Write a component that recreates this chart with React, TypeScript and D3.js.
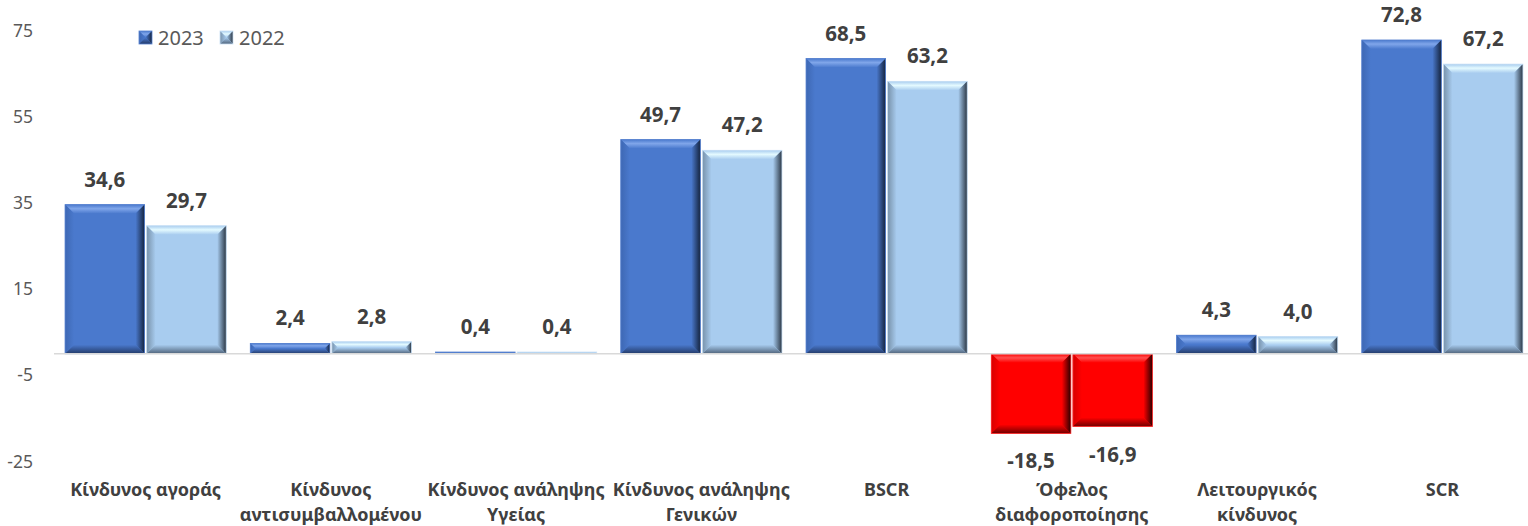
import React from "react";
import * as d3 from "d3";

const categories: string[][] = [
  ["Κίνδυνος αγοράς"],
  ["Κίνδυνος", "αντισυμβαλλομένου"],
  ["Κίνδυνος ανάληψης", "Υγείας"],
  ["Κίνδυνος ανάληψης", "Γενικών"],
  ["BSCR"],
  ["Όφελος", "διαφοροποίησης"],
  ["Λειτουργικός", "κίνδυνος"],
  ["SCR"],
];
const seriesNames = ["2023", "2022"];
const values2023 = [34.6, 2.4, 0.4, 49.7, 68.5, -18.5, 4.3, 72.8];
const values2022 = [29.7, 2.8, 0.4, 47.2, 63.2, -16.9, 4.0, 67.2];
const yTicks = [75, 55, 35, 15, -5, -25];

const W = 1528;
const H = 526;
const FONT = "'Noto Sans', sans-serif";

type Pal = { face: string; top: string; left: string; right: string; bottom: string; edge: string };
const palettes: Record<string, Pal> = {
  "2023": { face: "#4a79cd", top: "#80a6ea", left: "#3e68b4", right: "#15243f", bottom: "#233a68", edge: "#5580cf" },
  "2022": { face: "#a8ccef", top: "#e4faff", left: "#7892aa", right: "#2a3644", bottom: "#4f637a", edge: "#c9e0f5" },
  neg: { face: "#ff0000", top: "#ff5050", left: "#d80000", right: "#2a0000", bottom: "#700000", edge: "#ff3030" },
};

function fmt(v: number) {
  return v.toFixed(1).replace(".", ",");
}

function BevelBar({ x, y, w, h, id, b0 = 9 }: { x: number; y: number; w: number; h: number; id: string; b0?: number }) {
  const b = Math.min(b0, h / 2, w / 2);
  const p = (pts: number[][]) => pts.map((q) => q.join(",")).join(" ");
  return (
    <g>
      <rect x={x} y={y} width={w} height={h} fill={`url(#${id}-face)`} />
      {h > 3 && (
        <>
          <polygon points={p([[x, y], [x + w, y], [x + w - b, y + b], [x + b, y + b]])} fill={`url(#${id}-top)`} />
          <polygon points={p([[x, y], [x + b, y + b], [x + b, y + h - b], [x, y + h]])} fill={`url(#${id}-left)`} />
          <polygon points={p([[x + w, y], [x + w, y + h], [x + w - b, y + h - b], [x + w - b, y + b]])} fill={`url(#${id}-right)`} />
          <polygon points={p([[x, y + h], [x + w, y + h], [x + w - b, y + h - b], [x + b, y + h - b]])} fill={`url(#${id}-bottom)`} />
        </>
      )}
      <rect x={x} y={y} width={w} height={h} fill="none" stroke={`url(#${id}-edge)`} strokeWidth={0.8} />
    </g>
  );
}

function Grads({ id, pal }: { id: string; pal: Pal }) {
  return (
    <>
      <linearGradient id={`${id}-face`} x1="0" y1="0" x2="1" y2="0">
        <stop offset="0" stopColor={pal.face} />
        <stop offset="1" stopColor={pal.face} />
      </linearGradient>
      <linearGradient id={`${id}-edge`} x1="0" y1="0" x2="1" y2="0">
        <stop offset="0" stopColor={pal.edge} />
        <stop offset="1" stopColor={pal.edge} />
      </linearGradient>
      <linearGradient id={`${id}-top`} x1="0" y1="0" x2="0" y2="1">
        <stop offset="0" stopColor={pal.face} />
        <stop offset="0.45" stopColor={pal.top} />
        <stop offset="1" stopColor={pal.face} />
      </linearGradient>
      <linearGradient id={`${id}-left`} x1="0" y1="0" x2="1" y2="0">
        <stop offset="0" stopColor={pal.left} />
        <stop offset="1" stopColor={pal.face} />
      </linearGradient>
      <linearGradient id={`${id}-right`} x1="0" y1="0" x2="1" y2="0">
        <stop offset="0" stopColor={pal.face} />
        <stop offset="1" stopColor={pal.right} />
      </linearGradient>
      <linearGradient id={`${id}-bottom`} x1="0" y1="0" x2="0" y2="1">
        <stop offset="0" stopColor={pal.face} />
        <stop offset="1" stopColor={pal.bottom} />
      </linearGradient>
    </>
  );
}

export default function App() {
  const keys = categories.map((c) => c.join(" "));
  const x0 = d3.scaleBand<string>().domain(keys).range([53, 1535]).paddingInner(0.13).paddingOuter(0.065);
  const x1 = d3.scaleBand<string>().domain(seriesNames).range([0, x0.bandwidth()]).paddingInner(0.025);
  const y = d3.scaleLinear().domain([-25, 75]).range([461.5, 30.5]);
  const y0 = y(0);
  const series = [
    { name: "2023", values: values2023 },
    { name: "2022", values: values2022 },
  ];

  return (
    <svg width={W} height={H} style={{ position: "absolute", left: 0, top: 0, background: "#fff" }} fontFamily={FONT}>
      <defs>
        <Grads id="s2023" pal={palettes["2023"]} />
        <Grads id="s2022" pal={palettes["2022"]} />
        <Grads id="sneg" pal={palettes.neg} />
      </defs>
      <rect width={W} height={H} fill="#fff" />
      {yTicks.map((t) => (
        <text key={t} x={33} y={y(t)} dy="0.35em" textAnchor="end" fontSize={17.5} fill="#595959">
          {t}
        </text>
      ))}
      {series.map((s) =>
        s.values.map((v, i) => {
          const bx = (x0(keys[i]) ?? 0) + (x1(s.name) ?? 0);
          const bw = x1.bandwidth();
          const top = Math.min(y(v), y0);
          const h = Math.abs(y(v) - y0);
          const id = v < 0 ? "sneg" : `s${s.name}`;
          return <BevelBar key={s.name + i} x={bx} y={top} w={bw} h={h} id={id} />;
        })
      )}
      <line x1={54} x2={W} y1={y0} y2={y0} stroke="#d9d9d9" strokeWidth={1.5} />
      {series.map((s) =>
        s.values.map((v, i) => {
          const cx = (x0(keys[i]) ?? 0) + (x1(s.name) ?? 0) + x1.bandwidth() / 2;
          const ty = v >= 0 ? y(v) - 18 : y(v) + 35;
          return (
            <text key={"l" + s.name + i} x={cx} y={ty} textAnchor="middle" fontSize={20.5} fontWeight={700} fill="#404040">
              {fmt(v)}
            </text>
          );
        })
      )}
      {categories.map((lines, i) => {
        const cx = (x0(keys[i]) ?? 0) + x0.bandwidth() / 2;
        return (
          <text key={"c" + i} x={cx} textAnchor="middle" fontSize={18} fontWeight={700} fill="#404040">
            {lines.map((ln, j) => (
              <tspan key={j} x={cx} y={496 + j * 25}>
                {ln}
              </tspan>
            ))}
          </text>
        );
      })}
      {seriesNames.map((n, i) => {
        const lx = 139 + i * 81;
        return (
          <g key={"lg" + n}>
            <BevelBar x={lx} y={31} w={13} h={13} id={`s${n}`} b0={6.5} />
            <text x={lx + 19} y={45} fontSize={20} fill="#595959">
              {n}
            </text>
          </g>
        );
      })}
    </svg>
  );
}
